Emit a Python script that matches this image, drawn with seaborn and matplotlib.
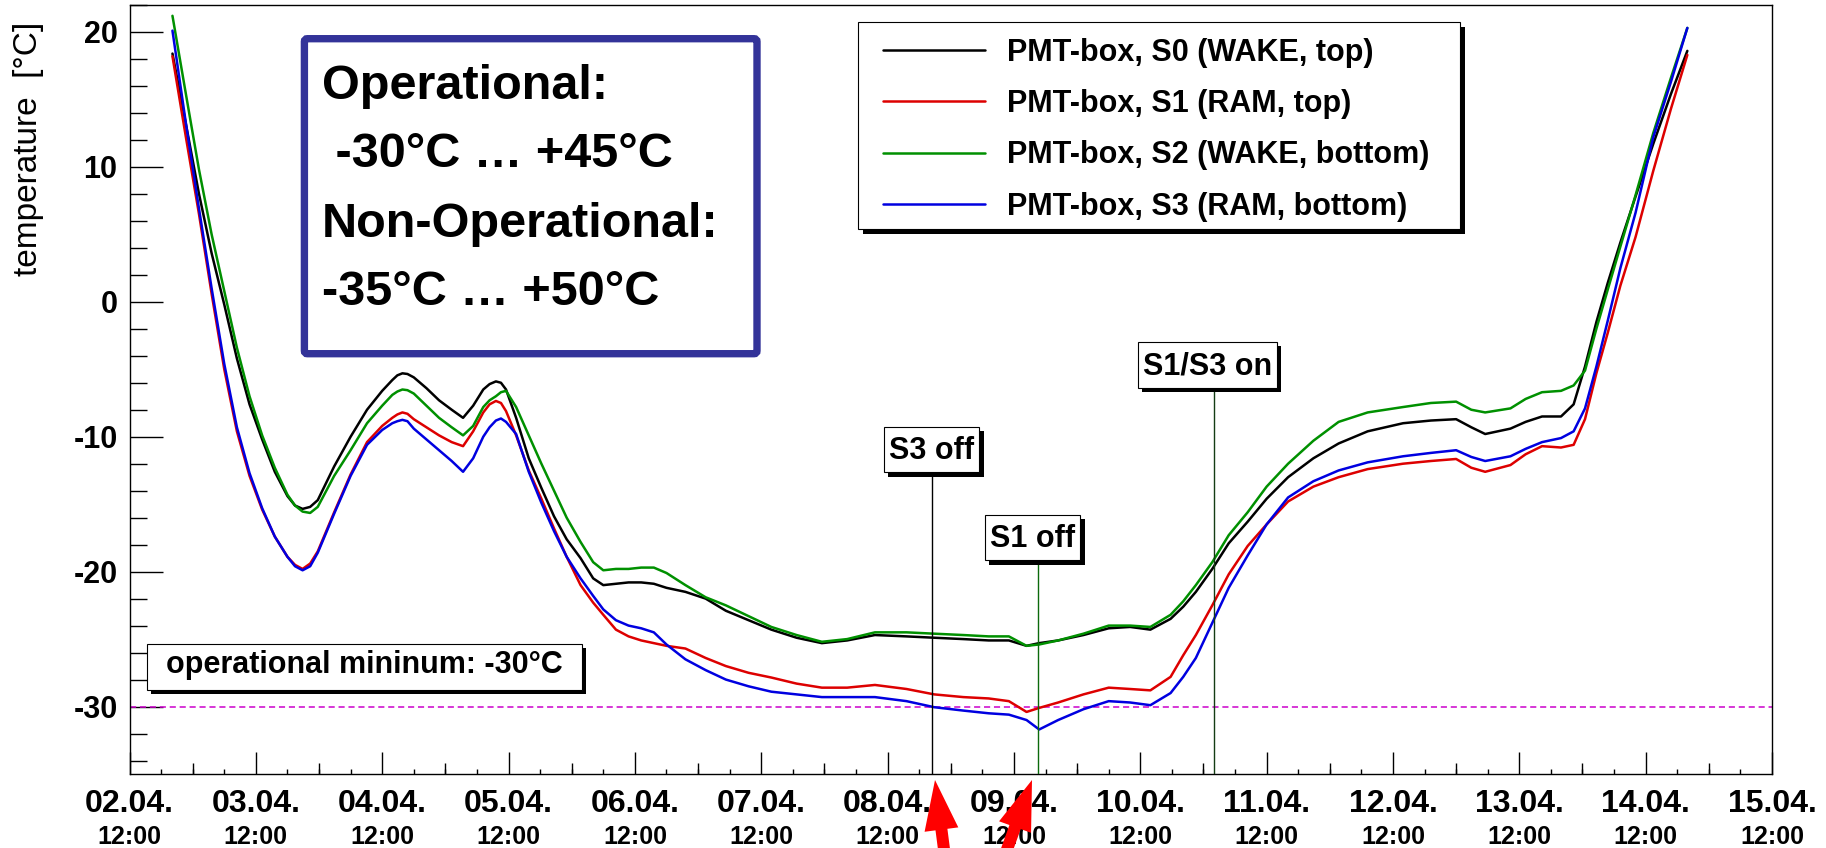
import numpy as np
import pandas as pd
import matplotlib
matplotlib.use("Agg")
import matplotlib.pyplot as plt
import matplotlib.transforms as mtransforms
import matplotlib.patheffects as pe
from matplotlib.patches import FancyBboxPatch, FancyArrow
from matplotlib.path import Path
from matplotlib.ticker import FixedLocator, MultipleLocator
import seaborn as sns

# ---------------------------------------------------------------- data
# time in days since 02.04. 12:00
days = [0.34, 0.45, 0.55, 0.65, 0.75, 0.85, 0.95, 1.05, 1.15, 1.25,
        1.31, 1.37, 1.43, 1.49, 1.62, 1.75, 1.88, 2.00, 2.08, 2.12,
        2.16, 2.20, 2.25, 2.35, 2.45, 2.55, 2.64, 2.72, 2.80, 2.85,
        2.90, 2.94, 2.98, 3.06, 3.16, 3.26, 3.36, 3.46, 3.57, 3.67,
        3.75, 3.85, 3.95, 4.05, 4.15, 4.25, 4.40, 4.56, 4.72, 4.90,
        5.08, 5.28, 5.48, 5.68, 5.90, 6.15, 6.37, 6.60, 6.80, 6.96,
        7.10, 7.20, 7.35, 7.55, 7.75, 7.92, 8.08, 8.24, 8.34, 8.44,
        8.57, 8.70, 8.85, 9.00, 9.17, 9.37, 9.57, 9.80, 10.08, 10.30,
        10.50, 10.62, 10.73, 10.93, 11.05, 11.18, 11.33, 11.43, 11.52, 11.61,
        11.70, 11.80, 11.92, 12.06, 12.20, 12.33]

s0_wake_top = [18.4, 13.0, 8.0, 3.6, -0.2, -4.2, -7.6, -10.2, -12.6, -14.4,
               -15.1, -15.35, -15.2, -14.7, -12.2, -10.0, -8.0, -6.6, -5.8, -5.45,
               -5.3, -5.35, -5.6, -6.4, -7.3, -8.0, -8.6, -7.7, -6.5, -6.1,
               -5.9, -6.0, -6.5, -8.6, -11.6, -13.8, -15.9, -17.6, -19.0, -20.5,
               -21.0, -20.9, -20.8, -20.8, -20.9, -21.2, -21.5, -22.0, -22.9, -23.6,
               -24.3, -24.9, -25.3, -25.1, -24.7, -24.8, -24.9, -25.0, -25.1, -25.1,
               -25.5, -25.3, -25.1, -24.7, -24.2, -24.1, -24.3, -23.5, -22.6, -21.5,
               -19.8, -17.9, -16.3, -14.6, -13.0, -11.6, -10.5, -9.6, -9.0, -8.8,
               -8.7, -9.3, -9.8, -9.4, -8.9, -8.5, -8.5, -7.6, -4.8, -1.5,
               1.4, 4.4, 7.8, 11.7, 15.4, 18.6]

s1_ram_top = [18.2, 12.0, 6.5, 0.6, -5.0, -9.6, -12.9, -15.4, -17.4, -18.9,
              -19.5, -19.8, -19.4, -18.5, -15.6, -12.8, -10.4, -9.2, -8.6, -8.35,
              -8.2, -8.3, -8.7, -9.3, -9.9, -10.4, -10.7, -9.6, -8.2, -7.6,
              -7.35, -7.5, -8.1, -9.9, -12.5, -14.6, -16.8, -18.9, -21.0, -22.3,
              -23.2, -24.3, -24.8, -25.1, -25.3, -25.5, -25.7, -26.4, -27.0, -27.5,
              -27.85, -28.3, -28.6, -28.6, -28.4, -28.7, -29.1, -29.3, -29.4, -29.6,
              -30.4, -30.1, -29.7, -29.1, -28.6, -28.7, -28.8, -27.8, -26.2, -24.7,
              -22.5, -20.2, -18.1, -16.5, -14.8, -13.7, -13.0, -12.4, -12.0, -11.8,
              -11.65, -12.3, -12.6, -12.1, -11.3, -10.7, -10.8, -10.6, -8.7, -5.3,
              -2.3, 1.2, 4.8, 9.7, 14.3, 18.3]

s2_wake_bottom = [21.2, 15.2, 9.8, 5.0, 0.8, -3.4, -7.0, -9.9, -12.3, -14.3,
                  -15.1, -15.55, -15.65, -15.2, -12.9, -11.0, -9.0, -7.7, -6.9, -6.65,
                  -6.5, -6.55, -6.8, -7.7, -8.6, -9.3, -9.9, -9.2, -7.8, -7.3,
                  -7.0, -6.7, -6.6, -7.8, -9.9, -12.0, -14.0, -16.0, -17.8, -19.3,
                  -19.9, -19.8, -19.8, -19.7, -19.7, -20.1, -21.0, -21.9, -22.5, -23.3,
                  -24.1, -24.7, -25.2, -25.0, -24.5, -24.5, -24.6, -24.7, -24.8, -24.8,
                  -25.5, -25.4, -25.1, -24.6, -24.0, -24.0, -24.1, -23.2, -22.2, -21.0,
                  -19.3, -17.3, -15.6, -13.7, -12.0, -10.3, -8.9, -8.2, -7.8, -7.5,
                  -7.4, -8.0, -8.2, -7.9, -7.2, -6.7, -6.6, -6.2, -5.1, -2.0,
                  0.9, 4.1, 7.9, 12.5, 16.6, 20.3]

s3_ram_bottom = [20.1, 13.0, 6.9, 1.0, -4.6, -9.3, -12.7, -15.3, -17.4, -18.9,
                 -19.6, -19.9, -19.6, -18.6, -15.7, -12.9, -10.6, -9.5, -9.0, -8.85,
                 -8.75, -8.85, -9.4, -10.2, -11.0, -11.8, -12.6, -11.6, -10.0, -9.3,
                 -8.8, -8.65, -8.9, -9.8, -12.6, -14.9, -17.0, -18.9, -20.5, -21.8,
                 -22.8, -23.6, -24.0, -24.2, -24.5, -25.4, -26.5, -27.3, -28.0, -28.5,
                 -28.9, -29.1, -29.3, -29.3, -29.3, -29.6, -30.05, -30.3, -30.5, -30.6,
                 -31.0, -31.7, -31.0, -30.2, -29.6, -29.7, -29.9, -29.0, -27.8, -26.4,
                 -23.8, -21.2, -18.8, -16.5, -14.5, -13.3, -12.5, -11.9, -11.45, -11.2,
                 -11.0, -11.5, -11.8, -11.45, -10.9, -10.4, -10.1, -9.6, -7.9, -4.8,
                 -1.4, 2.5, 6.6, 12.2, 16.3, 20.3]

sensor_labels = ["PMT-box, S0 (WAKE, top)", "PMT-box, S1 (RAM, top)",
                 "PMT-box, S2 (WAKE, bottom)", "PMT-box, S3 (RAM, bottom)"]
sensor_colors = ["#000000", "#dd0000", "#009000", "#0000e0"]

day_labels = ["02.04.", "03.04.", "04.04.", "05.04.", "06.04.", "07.04.", "08.04.",
              "09.04.", "10.04.", "11.04.", "12.04.", "13.04.", "14.04.", "15.04."]
hour_labels = ["12:00"] * len(day_labels)
temp_ticks = [-30, -20, -10, 0, 10, 20]
temp_tick_labels = ["-30", "-20", "-10", "0", "10", "20"]

event_labels = ["S3 off", "S1 off", "S1/S3 on"]
event_days = [6.35, 7.19, 8.58]
event_label_days = [6.35, 7.15, 8.53]
event_label_temps = [-11.66, -18.18, -5.37]
event_colors = ["#000000", "#0b6a0b", "#143c14"]

op_minimum = -30
op_minimum_text = "operational mininum: -30\u00b0C"
spec_lines = ["Operational:", " -30\u00b0C \u2026 +45\u00b0C",
              "Non-Operational:", "-35\u00b0C \u2026 +50\u00b0C"]

# ---------------------------------------------------------------- style
sns.set_theme(style="white")
plt.rcParams["font.family"] = ["Liberation Sans", "DejaVu Sans"]
plt.rcParams["axes.unicode_minus"] = False
for key in ("text.color", "axes.labelcolor", "xtick.color", "ytick.color", "axes.edgecolor"):
    plt.rcParams[key] = "black"

W, H, DPI = 1826, 848, 100
fig = plt.figure(figsize=(W / DPI, H / DPI), dpi=DPI, facecolor="white")
# transform in output pixels, origin at the top-left corner
pix = mtransforms.Affine2D().scale(1 / DPI, -1 / DPI).translate(0, H / DPI) + fig.dpi_scale_trans

ax = fig.add_axes([129.5 / W, 1 - 774 / H, (1772 - 129.5) / W, (774 - 5) / H])

frames = []
for label, temps in zip(sensor_labels, [s0_wake_top, s1_ram_top, s2_wake_bottom, s3_ram_bottom]):
    frames.append(pd.DataFrame({"day": days, "temp": temps, "sensor": label}))
df = pd.concat(frames, ignore_index=True)

ax.axhline(op_minimum, color="#cc00cc", lw=1.1, ls=(0, (4, 2.5)), zorder=1.5)

sns.lineplot(data=df, x="day", y="temp", hue="sensor", hue_order=sensor_labels,
             palette=sensor_colors, estimator=None, sort=False, lw=1.8, ax=ax, zorder=2)

ax.set_xlim(0, 13)
ax.set_ylim(-35, 22)
ax.set_xlabel("")
ax.set_ylabel("")
for sp in ax.spines.values():
    sp.set_color("black")
    sp.set_linewidth(1.0)
    sp.set_visible(True)

bold = {"fontweight": "bold"}
ax.xaxis.set_major_locator(FixedLocator(range(len(day_labels))))
ax.set_xticklabels(day_labels, fontdict=bold)
ax.xaxis.set_minor_locator(MultipleLocator(0.25))
ax.yaxis.set_major_locator(FixedLocator(temp_ticks))
ax.set_yticklabels(temp_tick_labels, fontdict=bold)
ax.yaxis.set_minor_locator(MultipleLocator(2))
ax.tick_params(axis="x", which="major", direction="in", length=15.8, width=1,
               color="black", pad=10.5, labelsize=23, bottom=True, top=False)
ax.tick_params(axis="x", which="minor", direction="in", length=3.6, width=1,
               color="black", bottom=True, top=False)
ax.tick_params(axis="y", which="major", direction="in", length=23.8, width=1,
               color="black", pad=8.6, labelsize=22, left=True, right=False)
ax.tick_params(axis="y", which="minor", direction="in", length=12.2, width=1,
               color="black", left=True, right=False)

# half-day ticks
half = ax.secondary_xaxis("bottom")
half.set_xticks(np.arange(0.5, len(day_labels) - 1, 1.0))
half.tick_params(direction="in", length=7.9, width=1, color="black", labelbottom=False)
half.spines["bottom"].set_visible(False)

# second row of the time labels
hours = ax.secondary_xaxis("bottom")
hours.set_xticks(range(len(hour_labels)))
hours.set_xticklabels(hour_labels, fontdict=bold)
hours.tick_params(length=0, pad=37, labelsize=18)
hours.spines["bottom"].set_visible(False)

fig.text(29, 21.6, "temperature  [\u00b0C]", transform=pix, rotation=90,
         ha="center", va="top", fontsize=24, color="black")

shadow = [pe.SimplePatchShadow(offset=(3, -3), shadow_rgbFace="black", alpha=1.0), pe.Normal()]


def pad_box(left, right, bottom, top):
    def style(x0, y0, width, height, mutation_size):
        xa, xb = x0 - left, x0 + width + right
        ya, yb = y0 - bottom, y0 + height + top
        return Path([(xa, ya), (xb, ya), (xb, yb), (xa, yb), (xa, ya)], closed=True)
    return style


# switching events
for label, day, lday, temp, color in zip(event_labels, event_days, event_label_days,
                                         event_label_temps, event_colors):
    ax.plot([day, day], [-35, temp], color=color, lw=1.0, zorder=3)
    t = ax.text(lday, temp, label, ha="center", va="baseline", fontsize=22,
                fontweight="bold", zorder=6,
                bbox=dict(boxstyle=pad_box(5, 5, 6.3, 9), fc="white", ec="black", lw=0.8))
    t.get_bbox_patch().set_path_effects(shadow)

# operational minimum label
t = ax.text(166, 673.3, op_minimum_text, transform=pix, ha="left", va="baseline",
            fontsize=22, fontweight="bold", zorder=6,
            bbox=dict(boxstyle=pad_box(18.7, 19, 9.6, 6.4), fc="white", ec="black", lw=0.8))
t.get_bbox_patch().set_path_effects(shadow)

# specification box
spec = FancyBboxPatch((304.4, 38.7), 757 - 304.4, 353.7 - 38.7,
                      boxstyle="round,pad=0,rounding_size=3", transform=pix,
                      fc="white", ec="#333399", lw=5.3, zorder=6, clip_on=False)
ax.add_patch(spec)
for line, base in zip(spec_lines, [99, 166.7, 236.7, 305]):
    ax.text(321.7, base, line, transform=pix, ha="left", va="baseline",
            fontsize=35, fontweight="bold", zorder=7)

# legend
frame = FancyBboxPatch((858.4, 22.3), 1460 - 858.4, 229.3 - 22.3,
                       boxstyle="square,pad=0", transform=pix, fc="white", ec="black",
                       lw=0.8, zorder=4, clip_on=False)
frame.set_path_effects([pe.SimplePatchShadow(offset=(3.6, -3.6), shadow_rgbFace="black",
                                             alpha=1.0), pe.Normal()])
ax.add_patch(frame)
handles, labels = ax.get_legend_handles_labels()
leg = ax.legend(handles, labels, loc="upper left", bbox_to_anchor=(882.5, 37.5),
                bbox_transform=pix, frameon=False, borderpad=0, borderaxespad=0,
                handlelength=3.37, handletextpad=0.72, labelspacing=0.70,
                prop={"size": 22, "weight": "bold"})
leg.set_zorder(5)
for h in leg.get_lines():
    h.set_linewidth(1.8)

# red pointers at the bottom
for (x0, y0), (x1, y1) in [((948, 880), (935, 780)), ((996, 880), (1032, 780))]:
    arr = FancyArrow(x0, y0, x1 - x0, y1 - y0, width=12, head_width=34, head_length=50,
                     length_includes_head=True, transform=pix, color="#ff0000",
                     lw=0, zorder=8, clip_on=False)
    fig.add_artist(arr)

fig.savefig("out.png", dpi=DPI, facecolor="white")
